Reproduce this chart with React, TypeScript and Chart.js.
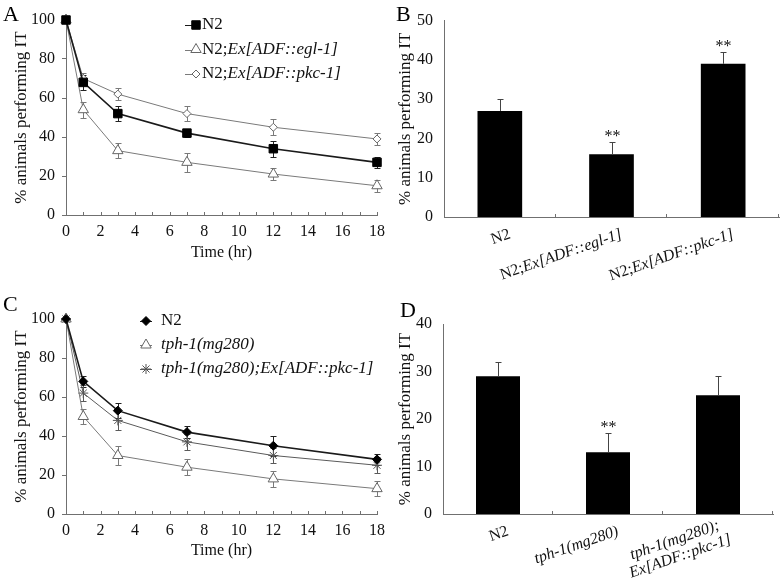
import React, { useEffect, useRef } from 'react';
import { Chart, registerables } from 'chart.js';

Chart.register(...registerables);

const SERIF = '"Liberation Serif", "Times New Roman", Times, serif';
const TEXT = '#111';
const AXIS = '#707070';

type Seg = [string, boolean];

// ---------------- data ----------------
const timeHours = [0, 1, 3, 7, 12, 18];

// Panel A
const aN2 = [100, 68, 52, 42, 34, 27];
const aN2Err = [0, 4, 4, 2, 4, 3];
const aEgl1 = [100, 54, 33, 27, 21, 15];
const aEgl1Err = [0, 4, 4, 5, 3, 3];
const aPkc1 = [100, 70, 62, 52, 45, 39];
const aPkc1Err = [0, 3, 3, 4, 4, 3];

// Panel C
const cN2 = [100, 68, 53, 42, 35, 28];
const cN2Err = [0, 3, 4, 3, 5, 3];
const cTph1 = [100, 50, 30, 24, 18, 13];
const cTph1Err = [0, 4, 5, 4, 4, 4];
const cTph1Pkc1 = [100, 62, 48, 37, 30, 25];
const cTph1Pkc1Err = [0, 4, 5, 4, 4, 4];

// Panel B
const bCategories = ['N2', 'N2;Ex[ADF::egl-1]', 'N2;Ex[ADF::pkc-1]'];
const bValues = [27, 16, 39];
const bErrors = [3, 3, 3];
const bSignificance = ['', '**', '**'];

// Panel D
const dCategories = ['N2', 'tph-1(mg280)', 'tph-1(mg280);Ex[ADF::pkc-1]'];
const dValues = [29, 13, 25];
const dErrors = [3, 4, 4];
const dSignificance = ['', '**', ''];

const yTitleText = '% animals performing IT';
const xTitleText = 'Time (hr)';

// rich text (italic gene names)
const aLegendText: Seg[][] = [
  [['N2', false]],
  [['N2;', false], ['Ex[ADF::egl-1]', true]],
  [['N2;', false], ['Ex[ADF::pkc-1]', true]],
];
const cLegendText: Seg[][] = [
  [['N2', false]],
  [['tph-1(mg280)', true]],
  [['tph-1(mg280);Ex[ADF::pkc-1]', true]],
];
const bLabelLines: Seg[][][] = [
  [[['N2', false]]],
  [[['N2;', false], ['Ex[ADF::egl-1]', true]]],
  [[['N2;', false], ['Ex[ADF::pkc-1]', true]]],
];
const dLabelLines: Seg[][][] = [
  [[['N2', false]]],
  [[['tph-1(mg280)', true]]],
  [[['tph-1(mg280);', true]], [['Ex[ADF::pkc-1]', true]]],
];

// ---------------- helpers ----------------
function setFont(ctx: CanvasRenderingContext2D, size: number, italic: boolean) {
  ctx.font = `${italic ? 'italic ' : ''}${size}px ${SERIF}`;
}

function measureRich(ctx: CanvasRenderingContext2D, segs: Seg[], size: number) {
  let w = 0;
  segs.forEach(([t, it]) => {
    setFont(ctx, size, it);
    w += ctx.measureText(t).width;
  });
  return w;
}

function drawRich(ctx: CanvasRenderingContext2D, segs: Seg[], x: number, y: number, size: number, align: 'left' | 'right' | 'center') {
  const total = measureRich(ctx, segs, size);
  let cx = align === 'left' ? x : align === 'right' ? x - total : x - total / 2;
  ctx.textAlign = 'left';
  segs.forEach(([t, it]) => {
    setFont(ctx, size, it);
    ctx.fillText(t, cx, y);
    cx += ctx.measureText(t).width;
  });
}

function drawMarker(ctx: CanvasRenderingContext2D, style: string, x: number, y: number, r: number, fill: string, stroke: string) {
  ctx.save();
  ctx.beginPath();
  if (style === 'rect') {
    const s = r * Math.SQRT1_2;
    ctx.rect(x - s, y - s, 2 * s, 2 * s);
  } else if (style === 'rectRot') {
    ctx.moveTo(x - r, y);
    ctx.lineTo(x, y - r);
    ctx.lineTo(x + r, y);
    ctx.lineTo(x, y + r);
    ctx.closePath();
  } else if (style === 'triangle') {
    for (let k = 0; k < 3; k++) {
      const a = (k * 2 * Math.PI) / 3;
      const px = x + Math.sin(a) * r;
      const py = y - Math.cos(a) * r;
      if (k === 0) ctx.moveTo(px, py);
      else ctx.lineTo(px, py);
    }
    ctx.closePath();
  } else if (style === 'star') {
    ctx.moveTo(x, y - r);
    ctx.lineTo(x, y + r);
    ctx.moveTo(x - r, y);
    ctx.lineTo(x + r, y);
    const d = r * Math.SQRT1_2;
    ctx.moveTo(x - d, y - d);
    ctx.lineTo(x + d, y + d);
    ctx.moveTo(x - d, y + d);
    ctx.lineTo(x + d, y - d);
  }
  ctx.fillStyle = fill;
  ctx.strokeStyle = stroke;
  ctx.lineWidth = 1;
  if (style !== 'star') ctx.fill();
  ctx.stroke();
  ctx.restore();
}

type Area = { l: number; r: number; t: number; b: number };

interface LineSeries {
  values: number[];
  errors: number[];
  legend: Seg[];
  pointStyle: string;
  radius: number;
  pointFill: string;
  pointStroke: string;
  lineColor: string;
  lineWidth: number;
  errColor: string;
}

interface LegendLayout {
  x0: number;
  y0: number;
  dy: number;
  lineLen: number;
  markerOff: number;
  textOff: number;
}

function makeLineChart(
  canvas: HTMLCanvasElement,
  w: number,
  h: number,
  area: Area,
  series: LineSeries[],
  legend: LegendLayout,
  letter: string,
  letterPos: [number, number]
) {
  const decor = {
    id: 'lineDecor',
    beforeDatasetsDraw(chart: any) {
      const ctx: CanvasRenderingContext2D = chart.ctx;
      const ys = chart.scales.y;
      series.forEach((s, i) => {
        const meta = chart.getDatasetMeta(i);
        ctx.save();
        ctx.strokeStyle = s.errColor;
        ctx.lineWidth = 1;
        ctx.beginPath();
        s.values.forEach((v, j) => {
          const e = s.errors[j];
          if (!e) return;
          const x = Math.round(meta.data[j].x) + 0.5;
          const y1 = Math.round(ys.getPixelForValue(v + e)) + 0.5;
          const y2 = Math.round(ys.getPixelForValue(v - e)) + 0.5;
          ctx.moveTo(x, y1);
          ctx.lineTo(x, y2);
          ctx.moveTo(x - 3, y1);
          ctx.lineTo(x + 3, y1);
          ctx.moveTo(x - 3, y2);
          ctx.lineTo(x + 3, y2);
        });
        ctx.stroke();
        ctx.restore();
      });
    },
    afterDraw(chart: any) {
      const ctx: CanvasRenderingContext2D = chart.ctx;
      const xs = chart.scales.x;
      const ys = chart.scales.y;
      ctx.save();
      // inward minor ticks on time axis, every hour
      ctx.strokeStyle = AXIS;
      ctx.lineWidth = 1;
      ctx.beginPath();
      for (let v = 1; v <= 18; v++) {
        const px = Math.round(xs.getPixelForValue(v)) + 0.5;
        ctx.moveTo(px, ys.bottom);
        ctx.lineTo(px, ys.bottom - 3);
      }
      ctx.stroke();
      // legend
      series.forEach((s, k) => {
        const y = legend.y0 + k * legend.dy;
        ctx.strokeStyle = s.lineColor;
        ctx.lineWidth = 1;
        ctx.beginPath();
        ctx.moveTo(legend.x0, Math.round(y) + 0.5);
        ctx.lineTo(legend.x0 + legend.lineLen, Math.round(y) + 0.5);
        ctx.stroke();
        drawMarker(ctx, s.pointStyle, legend.x0 + legend.markerOff, y, s.radius, s.pointFill, s.pointStroke);
        ctx.fillStyle = TEXT;
        ctx.textBaseline = 'middle';
        drawRich(ctx, s.legend, legend.x0 + legend.textOff, y, 17, 'left');
      });
      // panel letter
      ctx.fillStyle = '#000';
      ctx.textBaseline = 'alphabetic';
      ctx.textAlign = 'left';
      setFont(ctx, 22, false);
      ctx.fillText(letter, letterPos[0], letterPos[1]);
      ctx.restore();
    },
  };

  return new Chart(canvas, {
    type: 'line',
    data: {
      datasets: series.map((s) => ({
        data: timeHours.map((t, i) => ({ x: t, y: s.values[i] })),
        borderColor: s.lineColor,
        borderWidth: s.lineWidth,
        pointStyle: s.pointStyle,
        pointRadius: s.radius,
        pointBackgroundColor: s.pointFill,
        pointBorderColor: s.pointStroke,
        pointBorderWidth: 1,
        tension: 0,
        fill: false,
        clip: false,
      })),
    } as any,
    options: {
      responsive: false,
      animation: false,
      devicePixelRatio: 1,
      events: [],
      layout: { padding: { left: 0, top: area.t, right: w - area.r, bottom: 0 } },
      plugins: { legend: { display: false }, tooltip: { enabled: false } },
      scales: {
        x: {
          type: 'linear',
          min: 0,
          max: 18,
          ticks: {
            stepSize: 2,
            autoSkip: false,
            maxRotation: 0,
            padding: 7,
            color: TEXT,
            font: { family: SERIF, size: 16 },
          },
          grid: { display: false, drawTicks: false, tickLength: 0 },
          border: { display: true, color: AXIS, width: 1 },
          title: {
            display: true,
            text: xTitleText,
            color: TEXT,
            font: { family: SERIF, size: 16 },
            padding: { top: 0, bottom: 28 },
          },
          afterFit: (s: any) => {
            s.height = h - area.b;
          },
        },
        y: {
          type: 'linear',
          min: 0,
          max: 100,
          ticks: {
            stepSize: 10,
            padding: 7,
            color: TEXT,
            font: { family: SERIF, size: 16 },
            callback: (v: any) => (Number(v) % 20 === 0 ? String(v) : ''),
          },
          grid: { display: true, drawOnChartArea: false, drawTicks: true, tickLength: 4, color: AXIS },
          border: { display: true, color: AXIS, width: 1 },
          title: {
            display: true,
            text: yTitleText,
            color: TEXT,
            font: { family: SERIF, size: 17 },
            padding: { top: 11, bottom: 0 },
          },
          afterFit: (s: any) => {
            s.width = area.l;
          },
        },
      },
    } as any,
    plugins: [decor],
  });
}

function makeBarChart(
  canvas: HTMLCanvasElement,
  w: number,
  h: number,
  area: Area,
  categories: string[],
  labelLines: Seg[][][],
  values: number[],
  errors: number[],
  significance: string[],
  yMax: number,
  letter: string,
  letterPos: [number, number]
) {
  const decor = {
    id: 'barDecor',
    afterDatasetsDraw(chart: any) {
      const ctx: CanvasRenderingContext2D = chart.ctx;
      const ys = chart.scales.y;
      const meta = chart.getDatasetMeta(0);
      ctx.save();
      ctx.strokeStyle = '#444';
      ctx.lineWidth = 1;
      values.forEach((v, i) => {
        const x = Math.round(meta.data[i].x) + 0.5;
        const yTop = ys.getPixelForValue(v);
        const yErr = Math.round(ys.getPixelForValue(v + errors[i])) + 0.5;
        ctx.beginPath();
        ctx.moveTo(x, yTop);
        ctx.lineTo(x, yErr);
        ctx.moveTo(x - 3, yErr);
        ctx.lineTo(x + 3, yErr);
        ctx.stroke();
        if (significance[i]) {
          ctx.fillStyle = TEXT;
          setFont(ctx, 16, false);
          ctx.textAlign = 'center';
          ctx.textBaseline = 'alphabetic';
          ctx.fillText(significance[i], x, yErr - 2);
        }
      });
      ctx.restore();
    },
    afterDraw(chart: any) {
      const ctx: CanvasRenderingContext2D = chart.ctx;
      const xs = chart.scales.x;
      const ys = chart.scales.y;
      ctx.save();
      // inward ticks at category boundaries
      ctx.strokeStyle = AXIS;
      ctx.lineWidth = 1;
      ctx.beginPath();
      for (let i = 0; i < categories.length; i++) {
        const a = xs.getPixelForValue(i);
        const b = i + 1 < categories.length ? xs.getPixelForValue(i + 1) : a + (a - xs.getPixelForValue(i - 1));
        const px = Math.round((a + b) / 2) - 0.5;
        ctx.moveTo(px, ys.bottom);
        ctx.lineTo(px, ys.bottom - 3);
      }
      ctx.stroke();
      // rotated category labels
      const ang = (-19 * Math.PI) / 180;
      const lineH = 17;
      ctx.fillStyle = TEXT;
      ctx.textBaseline = 'middle';
      labelLines.forEach((lines, i) => {
        const x = xs.getPixelForValue(i);
        ctx.save();
        ctx.translate(x + 10, ys.bottom + 17);
        ctx.rotate(ang);
        const widths = lines.map((segs) => measureRich(ctx, segs, 16));
        const maxW = Math.max(...widths);
        lines.forEach((segs, li) => {
          const yy = (li - (lines.length - 1) / 2) * lineH;
          drawRich(ctx, segs, -maxW / 2, yy, 16, 'center');
        });
        ctx.restore();
      });
      // panel letter
      ctx.fillStyle = '#000';
      ctx.textBaseline = 'alphabetic';
      ctx.textAlign = 'left';
      setFont(ctx, 22, false);
      ctx.fillText(letter, letterPos[0], letterPos[1]);
      ctx.restore();
    },
  };

  return new Chart(canvas, {
    type: 'bar',
    data: {
      labels: categories,
      datasets: [
        {
          data: values,
          backgroundColor: '#000',
          borderWidth: 0,
          barPercentage: 0.4,
          categoryPercentage: 1,
        },
      ],
    },
    options: {
      responsive: false,
      animation: false,
      devicePixelRatio: 1,
      events: [],
      layout: { padding: { left: 0, top: area.t, right: w - area.r, bottom: 0 } },
      plugins: { legend: { display: false }, tooltip: { enabled: false } },
      scales: {
        x: {
          type: 'category',
          offset: true,
          ticks: { display: false },
          grid: { display: false, drawTicks: false, tickLength: 0 },
          border: { display: true, color: AXIS, width: 1 },
          afterFit: (s: any) => {
            s.height = h - area.b;
          },
        },
        y: {
          type: 'linear',
          min: 0,
          max: yMax,
          ticks: {
            stepSize: 10,
            padding: 11,
            color: TEXT,
            font: { family: SERIF, size: 16 },
          },
          grid: { display: false, drawTicks: false, tickLength: 0 },
          border: { display: true, color: AXIS, width: 1 },
          title: {
            display: true,
            text: yTitleText,
            color: TEXT,
            font: { family: SERIF, size: 17 },
            padding: { top: 3, bottom: 0 },
          },
          afterFit: (s: any) => {
            s.width = area.l;
          },
        },
      },
    } as any,
    plugins: [decor],
  });
}

// ---------------- panels ----------------
const GRAY_LINE = '#7a7a7a';
const GRAY_MARK = '#666';

function PanelCanvas(props: { left: number; top: number; width: number; height: number; build: (c: HTMLCanvasElement) => Chart }) {
  const ref = useRef<HTMLCanvasElement>(null);
  const { left, top, width, height, build } = props;
  useEffect(() => {
    if (!ref.current) return;
    const chart = build(ref.current);
    return () => chart.destroy();
  }, []);
  return (
    <canvas
      ref={ref}
      width={width}
      height={height}
      style={{ position: 'absolute', left, top, width, height, display: 'block' }}
    />
  );
}

const buildA = (c: HTMLCanvasElement) =>
  makeLineChart(
    c,
    392,
    290,
    { l: 66, r: 379, t: 20, b: 215 },
    [
      { values: aN2, errors: aN2Err, legend: aLegendText[0], pointStyle: 'rect', radius: 6, pointFill: '#000', pointStroke: '#000', lineColor: '#1a1a1a', lineWidth: 1.6, errColor: '#222' },
      { values: aEgl1, errors: aEgl1Err, legend: aLegendText[1], pointStyle: 'triangle', radius: 6, pointFill: '#fff', pointStroke: GRAY_MARK, lineColor: GRAY_LINE, lineWidth: 1, errColor: GRAY_LINE },
      { values: aPkc1, errors: aPkc1Err, legend: aLegendText[2], pointStyle: 'rectRot', radius: 4, pointFill: '#fff', pointStroke: GRAY_MARK, lineColor: GRAY_LINE, lineWidth: 1, errColor: GRAY_LINE },
    ],
    { x0: 185, y0: 25, dy: 24.5, lineLen: 15, markerOff: 11, textOff: 17 },
    'A',
    [3, 21]
  );

const buildC = (c: HTMLCanvasElement) =>
  makeLineChart(
    c,
    392,
    298,
    { l: 66, r: 379, t: 29, b: 224 },
    [
      { values: cN2, errors: cN2Err, legend: cLegendText[0], pointStyle: 'rectRot', radius: 4.5, pointFill: '#000', pointStroke: '#000', lineColor: '#1a1a1a', lineWidth: 1.6, errColor: '#222' },
      { values: cTph1, errors: cTph1Err, legend: cLegendText[1], pointStyle: 'triangle', radius: 6, pointFill: '#fff', pointStroke: GRAY_MARK, lineColor: GRAY_LINE, lineWidth: 1, errColor: GRAY_LINE },
      { values: cTph1Pkc1, errors: cTph1Pkc1Err, legend: cLegendText[2], pointStyle: 'star', radius: 5, pointFill: '#fff', pointStroke: '#555', lineColor: '#5a5a5a', lineWidth: 1, errColor: '#5a5a5a' },
    ],
    { x0: 140, y0: 31, dy: 24, lineLen: 12, markerOff: 6, textOff: 21 },
    'C',
    [3, 21]
  );

const buildB = (c: HTMLCanvasElement) =>
  makeBarChart(c, 391, 290, { l: 52, r: 387, t: 16, b: 217 }, bCategories, bLabelLines, bValues, bErrors, bSignificance, 50, 'B', [4, 21]);

const buildD = (c: HTMLCanvasElement) =>
  makeBarChart(c, 391, 298, { l: 51, r: 381, t: 34, b: 224 }, dCategories, dLabelLines, dValues, dErrors, dSignificance, 40, 'D', [8, 27]);

export default function App() {
  return (
    <div style={{ position: 'fixed', left: 0, top: 0, width: 783, height: 588, background: '#fff', overflow: 'hidden' }}>
      <PanelCanvas left={0} top={0} width={392} height={290} build={buildA} />
      <PanelCanvas left={392} top={0} width={391} height={290} build={buildB} />
      <PanelCanvas left={0} top={290} width={392} height={298} build={buildC} />
      <PanelCanvas left={392} top={290} width={391} height={298} build={buildD} />
    </div>
  );
}
